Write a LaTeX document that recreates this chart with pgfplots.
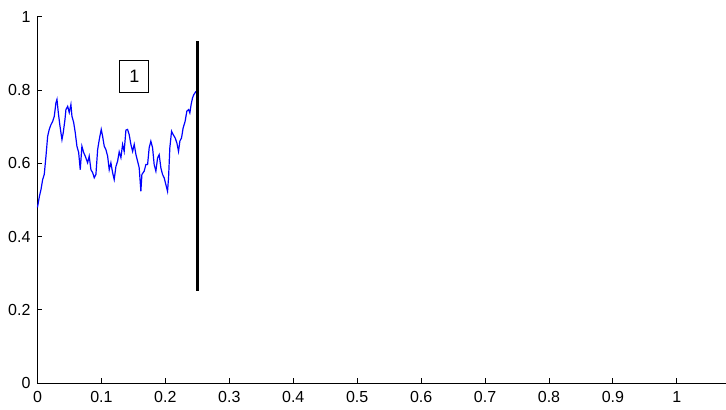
\documentclass[border=0pt]{standalone}
\usepackage{fontspec}
\setmainfont{Liberation Sans}
\usepackage{pgfplots}
\pgfplotsset{compat=1.18}
\begin{document}
\begin{tikzpicture}
\begin{axis}[
  scale only axis,
  width=344.25pt, height=183.25pt,
  xmin=0, xmax=1.076, ymin=0, ymax=1,
  axis lines=left,
  axis line style={-, black, line width=0.5pt},
  tick align=inside,
  major tick length=2.5pt,
  tick style={black, line width=0.5pt},
  xtick={0,0.1,0.2,0.3,0.4,0.5,0.6,0.7,0.8,0.9,1},
  xticklabels={0,0.1,0.2,0.3,0.4,0.5,0.6,0.7,0.8,0.9,1},
  ytick={0,0.2,0.4,0.6,0.8,1},
  yticklabels={0,0.2,0.4,0.6,0.8,1},
  tick label style={font=\fontsize{8}{9.6}\selectfont},
  xticklabel style={yshift=-0.5pt},
  clip=false,
]
\addplot[blue, line width=0.6pt] coordinates {
(0,0.48) (0.003,0.510) (0.0055,0.529) (0.0081,0.556) (0.0106,0.570)
(0.0133,0.620) (0.0159,0.674) (0.0184,0.693) (0.0211,0.706) (0.0238,0.715)
(0.0263,0.729) (0.0289,0.766) (0.0305,0.775) (0.0325,0.740) (0.0352,0.702)
(0.0383,0.665) (0.0403,0.684) (0.0430,0.720) (0.0445,0.747) (0.0472,0.756)
(0.0497,0.739) (0.0523,0.761) (0.0539,0.729) (0.0566,0.712) (0.0591,0.684)
(0.0617,0.647) (0.0644,0.630) (0.0669,0.583) (0.0695,0.647) (0.0722,0.630)
(0.0747,0.620) (0.0784,0.602) (0.0809,0.620) (0.0836,0.583) (0.0863,0.575)
(0.0888,0.561) (0.0914,0.570) (0.0941,0.638) (0.0966,0.665) (0.0997,0.693)
(0.1019,0.674) (0.1044,0.647) (0.1070,0.638) (0.1097,0.620) (0.1122,0.583)
(0.1148,0.602) (0.1175,0.575) (0.1200,0.556) (0.1227,0.592) (0.1253,0.606)
(0.1278,0.632) (0.1305,0.616) (0.1331,0.652) (0.1356,0.633) (0.1383,0.691)
(0.1409,0.693) (0.1434,0.679) (0.1461,0.652) (0.1488,0.633) (0.1513,0.652)
(0.1539,0.625) (0.1566,0.606) (0.1591,0.588) (0.1617,0.524) (0.1633,0.570)
(0.1669,0.579) (0.1695,0.597) (0.1722,0.597) (0.1747,0.643) (0.1773,0.661)
(0.1800,0.643) (0.1825,0.597) (0.1852,0.579) (0.1878,0.615) (0.1903,0.624)
(0.1930,0.588) (0.1956,0.570) (0.1981,0.561) (0.2008,0.542) (0.2034,0.524)
(0.2050,0.561) (0.2070,0.643) (0.2097,0.688) (0.2122,0.679) (0.2153,0.670)
(0.2180,0.656) (0.2206,0.633) (0.2227,0.661) (0.2253,0.670) (0.2278,0.697)
(0.2309,0.715) (0.2336,0.743) (0.2363,0.747) (0.2383,0.738) (0.2403,0.761)
(0.2425,0.779) (0.2445,0.788) (0.2480,0.797)
};
\addplot[black, line width=1.5pt] coordinates {(0.25,0.253) (0.25,0.934)};
\node[draw=black, line width=0.5pt, fill=white, minimum width=14.5pt, minimum height=16pt, inner sep=0pt, font=\fontsize{9}{10.8}\selectfont] at (axis cs:0.1516,0.837) {1};
\end{axis}
\path ([yshift=8.5pt,xshift=-18.75pt]current axis.north west) rectangle ([yshift=-12.25pt]current axis.south east);
\end{tikzpicture}
\end{document}
